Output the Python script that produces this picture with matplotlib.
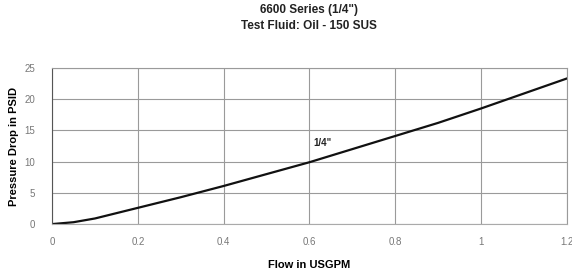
import matplotlib
matplotlib.use("Agg")
import matplotlib.pyplot as plt

flow = [0.0, 0.05, 0.1, 0.2, 0.3, 0.4, 0.5, 0.6, 0.7, 0.8, 0.9, 1.0, 1.1, 1.2]
pressure = [0.0, 0.3, 0.9, 2.6, 4.3, 6.1, 8.0, 9.9, 12.0, 14.1, 16.2, 18.5, 20.9, 23.3]
xticks = [0, 0.2, 0.4, 0.6, 0.8, 1.0, 1.2]
xticklabels = ["0", "0.2", "0.4", "0.6", "0.8", "1", "1.2"]
yticks = [0, 5, 10, 15, 20, 25]

plt.rcParams['font.family'] = ['Liberation Sans', 'DejaVu Sans']

fig = plt.figure(figsize=(5.72, 2.77), dpi=100)
ax = fig.add_axes([0.091, 0.191, 0.900, 0.564])
ax.plot(flow, pressure, color='#111111', lw=1.6)
ax.set_xlim(0, 1.2)
ax.set_ylim(0, 25)
ax.set_xticks(xticks)
ax.set_xticklabels(xticklabels)
ax.set_yticks(yticks)
ax.grid(True, color='#9a9a9a', lw=0.8)
ax.set_axisbelow(True)
for s in ax.spines.values():
    s.set_color('#9a9a9a')
    s.set_linewidth(0.8)
ax.spines['left'].set_color('#555555')
ax.spines['bottom'].set_color('#aaaaaa')
ax.tick_params(length=0, labelsize=7, colors='#777777', pad=9)
ax.tick_params(axis='y', pad=12)
ax.text(0.63, 13.0, '1/4"', fontsize=7, fontweight='bold', color='#222222', ha='center', va='center')
ax.set_xlabel('Flow in USGPM', fontsize=8, fontweight='bold', labelpad=10)
ax.set_ylabel('Pressure Drop in PSID', fontsize=8, fontweight='bold', labelpad=4)
fig.text(0.54, 0.965, '6600 Series (1/4")', ha='center', va='center', fontsize=8.5, fontweight='bold', color='#222222')
fig.text(0.54, 0.905, 'Test Fluid: Oil - 150 SUS', ha='center', va='center', fontsize=8.5, fontweight='bold', color='#222222')
fig.savefig('out.png', dpi=100, facecolor='white')
